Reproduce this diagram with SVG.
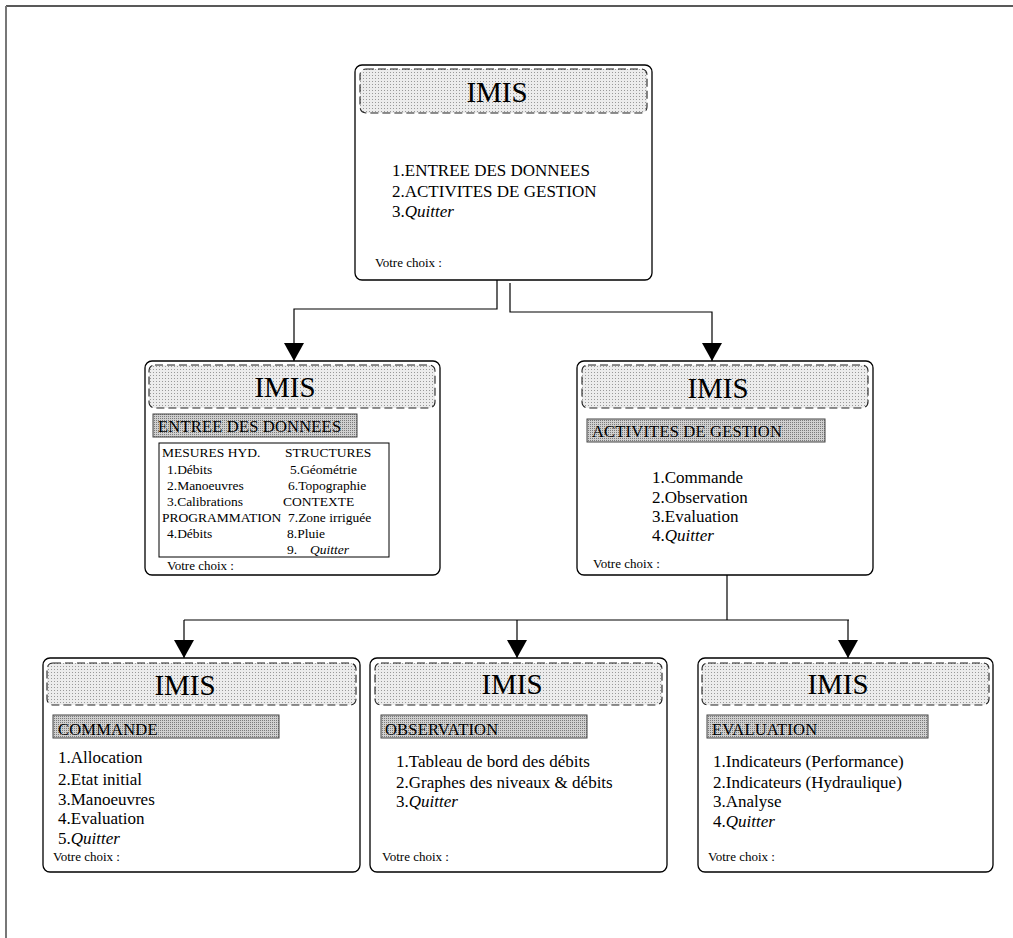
<svg xmlns="http://www.w3.org/2000/svg" width="1013" height="938" viewBox="0 0 1013 938">
<style>
text{font-family:"Liberation Serif","Times New Roman",serif;fill:#000}
.box{fill:#fff;stroke:#000;stroke-width:1.3}
.hdr{fill:url(#dotL);stroke:#222;stroke-width:1.1;stroke-dasharray:8 4}
.lbl{fill:url(#dotD);stroke:#444;stroke-width:1}
.imis{font-size:29px;text-anchor:middle}
.it{font-size:17px}
.lt{font-size:16.5px;letter-spacing:0.2px}
.sm{font-size:13.5px}
.vc{font-size:13px}
.conn{fill:none;stroke:#000;stroke-width:1.2;marker-end:url(#arr)}
.line{fill:none;stroke:#000;stroke-width:1.2}
</style>
<defs>
<pattern id="dotL" width="3" height="3" patternUnits="userSpaceOnUse">
<rect width="3" height="3" fill="#ececec"/>
<rect width="1" height="1" fill="#999"/>
</pattern>
<pattern id="dotD" width="2" height="2" patternUnits="userSpaceOnUse">
<rect width="2" height="2" fill="#d0d0d0"/>
<rect width="1" height="1" fill="#7a7a7a"/>
</pattern>
<marker id="arr" viewBox="0 0 18 20" refX="18" refY="10" markerWidth="18" markerHeight="20" markerUnits="userSpaceOnUse" orient="auto">
<path d="M0,0 L18,10 L0,20 z" fill="#000"/>
</marker>
</defs>
<rect width="1013" height="938" fill="#fff"/>
<g id="frame">
<line x1="6" y1="6" x2="1013" y2="6" stroke="#222" stroke-width="1.5"/>
<line x1="6" y1="6" x2="6" y2="938" stroke="#777" stroke-width="2"/>
</g>
<g id="connectors">
<polyline class="conn" points="497,280 497,309 294,309 294,361"/>
<polyline class="conn" points="510,283 510,312 712,312 712,361"/>
<polyline class="line" points="727,575 727,620"/>
<polyline class="line" points="184,620 849,620"/>
<polyline class="conn" points="184,620 184,658"/>
<polyline class="conn" points="517,620 517,658"/>
<polyline class="conn" points="848,620 848,658"/>
</g>
<g id="main">
<rect class="box" x="355" y="65" width="297" height="215" rx="7"/>
<rect class="hdr" x="360" y="69" width="287" height="44" rx="6"/>
<text class="imis" x="497" y="102">IMIS</text>
<text class="it" x="392" y="176">1.ENTREE DES DONNEES</text>
<text class="it" x="392" y="197">2.ACTIVITES DE GESTION</text>
<text class="it" x="392" y="217">3.<tspan font-style="italic">Quitter</tspan></text>
<text class="vc" x="375" y="267">Votre choix :</text>
</g>
<g id="entree">
<rect class="box" x="145" y="361" width="295" height="214" rx="7"/>
<rect class="hdr" x="149" y="365" width="286" height="43" rx="6"/>
<text class="imis" x="285" y="397">IMIS</text>
<rect class="lbl" x="153" y="414" width="204" height="23"/>
<text class="lt" x="158" y="432">ENTREE DES DONNEES</text>
<rect x="159" y="443" width="230" height="114" fill="none" stroke="#000" stroke-width="1"/>
<text class="sm" x="162" y="457">MESURES HYD.</text>
<text class="sm" x="167" y="474">1.Débits</text>
<text class="sm" x="167" y="490">2.Manoeuvres</text>
<text class="sm" x="167" y="506">3.Calibrations</text>
<text class="sm" x="162" y="522">PROGRAMMATION</text>
<text class="sm" x="167" y="538">4.Débits</text>
<text class="sm" x="285" y="457">STRUCTURES</text>
<text class="sm" x="290" y="474">5.Géométrie</text>
<text class="sm" x="288" y="490">6.Topographie</text>
<text class="sm" x="283" y="506">CONTEXTE</text>
<text class="sm" x="288" y="522">7.Zone irriguée</text>
<text class="sm" x="287" y="538">8.Pluie</text>
<text class="sm" x="287" y="554">9.</text>
<text class="sm" x="310" y="554" font-style="italic">Quitter</text>
<text class="vc" x="167" y="570">Votre choix :</text>
</g>
<g id="activites">
<rect class="box" x="577" y="361" width="296" height="214" rx="7"/>
<rect class="hdr" x="582" y="365" width="286" height="43" rx="6"/>
<text class="imis" x="718" y="398">IMIS</text>
<rect class="lbl" x="587" y="419" width="238" height="23"/>
<text class="lt" x="592" y="437">ACTIVITES DE GESTION</text>
<text class="it" x="652" y="483">1.Commande</text>
<text class="it" x="652" y="503">2.Observation</text>
<text class="it" x="652" y="522">3.Evaluation</text>
<text class="it" x="652" y="541">4.<tspan font-style="italic">Quitter</tspan></text>
<text class="vc" x="593" y="568">Votre choix :</text>
</g>
<g id="commande">
<rect class="box" x="43" y="658" width="317" height="214" rx="7"/>
<rect class="hdr" x="47" y="663" width="309" height="42" rx="6"/>
<text class="imis" x="185" y="695">IMIS</text>
<rect class="lbl" x="53" y="715" width="226" height="23"/>
<text class="lt" x="58" y="735">COMMANDE</text>
<text class="it" x="58" y="763">1.Allocation</text>
<text class="it" x="58" y="785">2.Etat initial</text>
<text class="it" x="58" y="805">3.Manoeuvres</text>
<text class="it" x="58" y="824">4.Evaluation</text>
<text class="it" x="58" y="844">5.<tspan font-style="italic">Quitter</tspan></text>
<text class="vc" x="53" y="861">Votre choix :</text>
</g>
<g id="observation">
<rect class="box" x="370" y="658" width="297" height="214" rx="7"/>
<rect class="hdr" x="375" y="663" width="287" height="42" rx="6"/>
<text class="imis" x="512" y="694">IMIS</text>
<rect class="lbl" x="381" y="715" width="206" height="23"/>
<text class="lt" x="385" y="735">OBSERVATION</text>
<text class="it" x="396" y="767">1.Tableau de bord des débits</text>
<text class="it" x="396" y="788">2.Graphes des niveaux &amp; débits</text>
<text class="it" x="396" y="807">3.<tspan font-style="italic">Quitter</tspan></text>
<text class="vc" x="382" y="861">Votre choix :</text>
</g>
<g id="evaluation">
<rect class="box" x="698" y="658" width="295" height="214" rx="7"/>
<rect class="hdr" x="702" y="663" width="287" height="42" rx="6"/>
<text class="imis" x="838" y="694">IMIS</text>
<rect class="lbl" x="707" y="715" width="221" height="23"/>
<text class="lt" x="712" y="735">EVALUATION</text>
<text class="it" x="713" y="767">1.Indicateurs (Performance)</text>
<text class="it" x="713" y="788">2.Indicateurs (Hydraulique)</text>
<text class="it" x="713" y="807">3.Analyse</text>
<text class="it" x="713" y="827">4.<tspan font-style="italic">Quitter</tspan></text>
<text class="vc" x="708" y="861">Votre choix :</text>
</g>
</svg>
